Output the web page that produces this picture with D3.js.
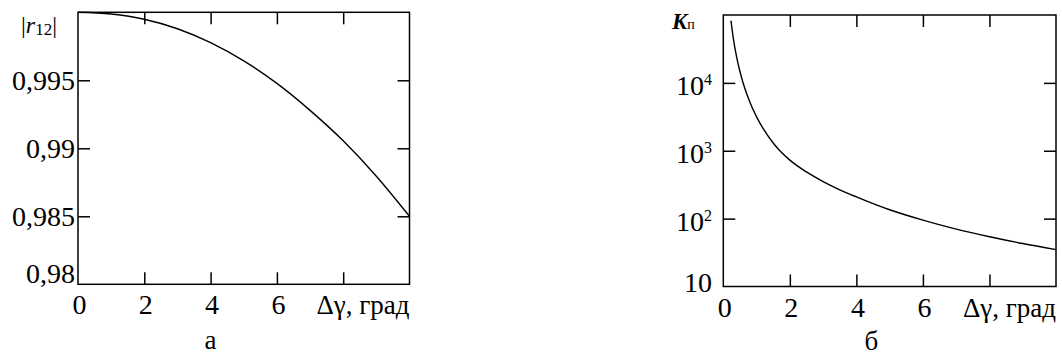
<!DOCTYPE html>
<html lang="ru">
<head>
<meta charset="UTF-8">
<title>|r12| и Kп от Δγ</title>
<script src="https://cdn.jsdelivr.net/npm/d3@7"></script>
</head>
<body style="margin:0;background:#fff">
<svg width="1062" height="356" style="display:block"></svg>
<script>
// данные
var angleA = [0, 1, 2, 3, 4, 5, 6, 7, 8, 9, 10];
var r12 = [1.0, 0.99987, 0.99949, 0.99879, 0.99777, 0.99643, 0.99477, 0.99279, 0.99055, 0.98795, 0.985];

var angleB = [0.23, 0.3, 0.4, 0.5, 0.6, 0.8, 1.0, 1.2, 1.5, 1.7, 2, 2.5, 3, 3.5, 4, 5, 6, 7, 8, 9, 10];
var kp = [82400, 45700, 24100, 14700, 9800, 5180, 3160, 2115, 1300, 1000, 728, 487, 351, 266, 209, 135, 95, 70, 54, 43, 35];

var xTickMarks = [2, 4, 6, 8];
var xTickLabels = [0, 2, 4, 6];
var rTicks = [0.98, 0.985, 0.99, 0.995];
var rLabels = ["0,98", "0,985", "0,99", "0,995"];
var kTicks = [10, 100, 1000, 10000];
var kPowers = ["", "2", "3", "4"];

var svg = d3.select("svg");
var serif = "'Liberation Serif', 'Times New Roman', 'DejaVu Serif', serif";
var tick = 12;

var xA = d3.scaleLinear().domain([0, 10]).range([78, 409.5]);
var yA = d3.scaleLinear().domain([0.98, 1.0]).range([284.3, 12.3]);
var xB = d3.scaleLinear().domain([0, 10]).range([723.3, 1056]);
var yB = d3.scaleLog().domain([10, 1e5]).range([286.5, 15]);

function frame(x, y, yTicks) {
    var g = svg.append("g");
    var x0 = x.range()[0], x1 = x.range()[1], y0 = y.range()[0], y1 = y.range()[1];
    var noDomain = function(s) {
        s.select(".domain").remove();
        s.selectAll("line").attr("stroke", "#000").attr("stroke-width", 1.5);
    };
    g.append("g").attr("transform", "translate(0," + y0 + ")")
        .call(d3.axisBottom(x).tickValues(xTickMarks).tickSizeInner(-tick).tickSizeOuter(0).tickFormat(""))
        .call(noDomain);
    g.append("g").attr("transform", "translate(0," + y1 + ")")
        .call(d3.axisTop(x).tickValues(xTickMarks).tickSizeInner(-tick).tickSizeOuter(0).tickFormat(""))
        .call(noDomain);
    g.append("g").attr("transform", "translate(" + x0 + ",0)")
        .call(d3.axisLeft(y).tickValues(yTicks).tickSizeInner(-tick).tickSizeOuter(0).tickFormat(""))
        .call(noDomain);
    g.append("g").attr("transform", "translate(" + x1 + ",0)")
        .call(d3.axisRight(y).tickValues(yTicks).tickSizeInner(-tick).tickSizeOuter(0).tickFormat(""))
        .call(noDomain);
    g.append("rect")
        .attr("x", x0).attr("y", y1)
        .attr("width", x1 - x0).attr("height", y0 - y1)
        .attr("fill", "none").attr("stroke", "#000").attr("stroke-width", 1.5);
    return g;
}

function curve(x, y, xs, ys) {
    var line = d3.line()
        .x(function(d) { return x(d[0]); })
        .y(function(d) { return y(d[1]); })
        .curve(d3.curveMonotoneX);
    svg.append("path")
        .datum(d3.zip(xs, ys))
        .attr("d", line)
        .attr("fill", "none")
        .attr("stroke", "#000")
        .attr("stroke-width", 1.4);
}

function txt(x, y, size) {
    return svg.append("text")
        .attr("x", x).attr("y", y)
        .attr("font-family", serif)
        .attr("font-size", size)
        .attr("fill", "#000");
}

function xLabels(x, base, title, panelName, panelX, panelY) {
    xTickLabels.forEach(function(d) {
        txt(x(d) + 1.5, base, 28).attr("text-anchor", "middle").text(d);
    });
    txt(x.range()[1], base, 27).attr("text-anchor", "end").text(title);
    txt(x(panelX), panelY, 27).attr("text-anchor", "middle").text(panelName);
}

// --- а ---
frame(xA, yA, rTicks.slice(1));
curve(xA, yA, angleA, r12);
rTicks.forEach(function(d, i) {
    txt(75, yA(d) + (i === 0 ? -1 : 10), 28).attr("text-anchor", "end").text(rLabels[i]);
});
var tA = txt(21, 33, 24);
tA.append("tspan").text("|");
tA.append("tspan").attr("font-style", "italic").text("r");
tA.append("tspan").attr("font-size", 17).attr("dy", 2).text("12");
tA.append("tspan").attr("dy", -2).text("|");
xLabels(xA, 314, "Δγ, град", "а", 4, 349);

// --- б ---
frame(xB, yB, kTicks.slice(1));
curve(xB, yB, angleB, kp);
kTicks.forEach(function(d, i) {
    var t = txt(712, yB(d) + (kPowers[i] ? 12.3 : 5), 28).attr("text-anchor", "end");
    t.append("tspan").text("10");
    if (kPowers[i]) {
        t.append("tspan").attr("font-size", 16).attr("dy", -10).text(kPowers[i]);
    }
});
var tB = txt(672, 29, 23);
tB.append("tspan").attr("font-style", "italic").attr("font-weight", "bold").text("K");
tB.append("tspan").attr("font-size", 14).text("п");
xLabels(xB, 316.5, "Δγ, град", "б", 4.45, 350);
</script>
</body>
</html>
